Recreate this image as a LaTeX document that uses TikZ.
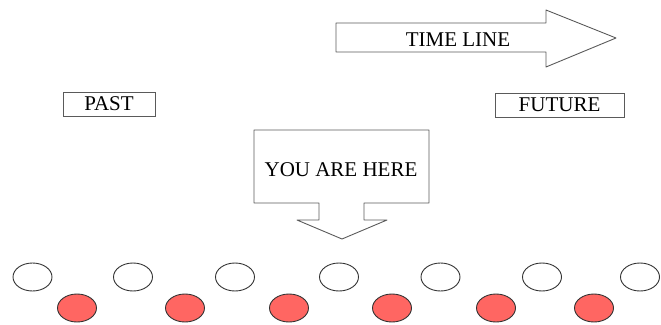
\documentclass[tikz,border=0pt]{standalone}
\usepackage{fontspec}
\setmainfont{Liberation Serif}
\usepackage{tikz,tkz-euclide}
\usetikzlibrary{shapes.geometric}
\definecolor{redpin}{RGB}{255,102,98}
\definecolor{edgegray}{RGB}{90,90,90}
\tikzset{
  labelbox/.style={draw=edgegray, line width=0.9pt, inner sep=0pt, font=\fontsize{21}{25}\selectfont},
  arrowtext/.style={inner sep=0pt, font=\fontsize{21}{25}\selectfont},
  blank/.style={ellipse, draw=black!80, line width=0.9pt, fill=white, minimum width=39pt, minimum height=28pt, inner sep=0pt},
  dot/.style={blank, fill=redpin}
}
\begin{document}
\begin{tikzpicture}[x=1pt,y=-1pt]
    \useasboundingbox (0,0) rectangle (661,324);
    % time line arrow
    \tkzDefPoint(336,23){A}
    \tkzDefPoint(546,23){B}
    \tkzDefPoint(546,10){C}
    \tkzDefPoint(616,38){D}
    \tkzDefPoint(546,67){E}
    \tkzDefPoint(546,52){F}
    \tkzDefPoint(336,52){G}
    \tkzDrawPolygon[draw=edgegray, line width=0.9pt](A,B,C,D,E,F,G)
    \node[arrowtext] (timeline) at (458,40) {TIME LINE};
    % past and future
    \node[labelbox, minimum width=92pt, minimum height=24pt] (past) at (109,104) {PAST};
    \node[labelbox, minimum width=129pt, minimum height=24pt] (future) at (559.5,105) {FUTURE};
    % you are here arrow
    \tkzDefPoint(254,130){H}
    \tkzDefPoint(429,130){I}
    \tkzDefPoint(429,203){J}
    \tkzDefPoint(364,203){K}
    \tkzDefPoint(364,220){L}
    \tkzDefPoint(387,220){M}
    \tkzDefPoint(342,239){N}
    \tkzDefPoint(297,220){P}
    \tkzDefPoint(319,220){Q}
    \tkzDefPoint(319,203){R}
    \tkzDefPoint(254,203){S}
    \tkzDrawPolygon[draw=edgegray, line width=0.9pt](H,I,J,K,L,M,N,P,Q,R,S)
    \node[arrowtext] (here) at (341,170) {YOU ARE HERE};
    % ellipses
    \foreach \x [count=\i] in {32.5,133,235,339,440.5,542,640}
        \node[blank] (w\i) at (\x,277) {};
    \foreach \x [count=\i] in {77,185,289,392,496,594}
        \node[dot] (r\i) at (\x,308) {};
\end{tikzpicture}
\end{document}
